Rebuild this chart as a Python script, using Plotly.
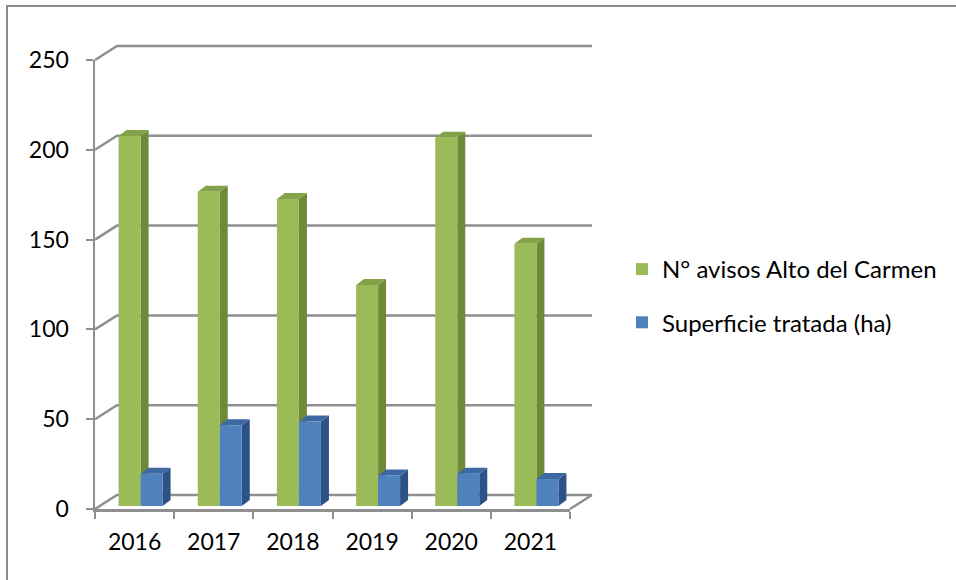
import plotly.graph_objects as go

# ---- data ----
years = ["2016", "2017", "2018", "2019", "2020", "2021"]
avisos = [206, 175, 171, 123, 205, 146]
superficie = [18, 45, 47, 17, 18, 15]
y_ticks = [0, 50, 100, 150, 200, 250]
name_avisos = "N° avisos Alto del Carmen"
name_sup = "Superficie tratada (ha)"

# ---- geometry / style ----
W, H = 956, 580
L, R, T, B = 95, 570, 60, 509          # front plane of the 3D box (px)
YMAX = 250
ncat = len(years)
cat_px = (R - L) / ncat
upx = (B - T) / YMAX                   # px per value unit
SX, SY = 6, 3                          # bar plane shift (px) relative to front plane
BX, BY = 22, 14                        # back wall shift (px)
DX, DY = 8, 6                          # bar depth (px)
BARGAP = 0.444
FONT = "Lato"
GRID = "#8f8f8f"

green = dict(front="#9BBB59", side="#6E8A38", top="#84A24A")
blue = dict(front="#4F81BD", side="#2D5287", top="#3D69A3")

fig = go.Figure()

# invisible trace carrying the front-plane category axis
fig.add_trace(go.Scatter(x=years, y=avisos, mode="markers", marker=dict(opacity=0),
                         showlegend=False, hoverinfo="skip", xaxis="x", yaxis="y"))

fig.add_trace(go.Bar(x=years, y=avisos, name=name_avisos, marker_color=green["front"],
                     marker_line_width=0, legendgroup="a", xaxis="x2", yaxis="y2"))
fig.add_trace(go.Bar(x=years, y=superficie, name=name_sup, marker_color=blue["front"],
                     marker_line_width=0, legendgroup="b", xaxis="x2", yaxis="y2"))

shapes = []
# back wall gridlines with perspective connectors (paper coords = front plane)
pbx = BX / (R - L)
pby = BY / (B - T)
for t in y_ticks:
    fy = t / YMAX
    shapes.append(dict(type="path", xref="paper", yref="paper", layer="below",
                       path=f"M0,{fy} L{pbx},{fy + pby} L{1 + pbx},{fy + pby}",
                       line=dict(color=GRID, width=2.5)))
# floor right edge
shapes.append(dict(type="line", xref="paper", yref="paper", layer="below",
                   x0=1, y0=0, x1=1 + pbx, y1=pby, line=dict(color=GRID, width=2.5)))

# 3D side and top faces of bars (bar-plane axes)
w = (1 - BARGAP) / 2
dxu = DX / cat_px
dyu = DY / upx
for k, (vals, col) in enumerate([(avisos, green), (superficie, blue)]):
    for i, v in enumerate(vals):
        x0 = i - w + k * w
        x1 = x0 + w
        side = (f"M{x1},0 L{x1 + dxu},{dyu} L{x1 + dxu},{v + dyu} L{x1},{v} Z")
        top = (f"M{x0},{v} L{x0 + dxu},{v + dyu} L{x1 + dxu},{v + dyu} L{x1},{v} Z")
        shapes.append(dict(type="path", xref="x2", yref="y2", layer="below", path=side,
                           fillcolor=col["side"], line=dict(width=0)))
        shapes.append(dict(type="path", xref="x2", yref="y2", layer="below", path=top,
                           fillcolor=col["top"], line=dict(width=0)))

# outer chart border
shapes.append(dict(type="rect", xref="paper", yref="paper", layer="below",
                   x0=(7 - L) / (R - L), x1=(W + 10 - L) / (R - L),
                   y0=(B - (H + 10)) / (B - T), y1=(B - 6) / (B - T),
                   line=dict(color="#8a8a8a", width=2), fillcolor="rgba(0,0,0,0)"))

tickfont = dict(family=FONT, size=23, color="#000000")
fig.update_layout(
    width=W, height=H,
    margin=dict(l=L, r=W - R, t=T, b=H - B, pad=0),
    paper_bgcolor="white", plot_bgcolor="rgba(0,0,0,0)",
    barmode="group", bargap=BARGAP, bargroupgap=0,
    font=dict(family=FONT, size=23, color="#000000"),
    xaxis=dict(type="category", range=[-0.5, ncat - 0.5], showgrid=False, zeroline=False,
               showline=True, linecolor=GRID, linewidth=2.5,
               ticks="outside", tickson="boundaries", ticklen=7, tickwidth=2, tickcolor=GRID,
               tickfont=tickfont, ticklabelstandoff=11, fixedrange=True),
    yaxis=dict(range=[0, YMAX], tickvals=y_ticks, showgrid=False, zeroline=False,
               showline=True, linecolor=GRID, linewidth=2.5,
               ticks="outside", ticklen=7, tickwidth=2, tickcolor=GRID,
               tickfont=tickfont, ticklabelstandoff=12, fixedrange=True),
    xaxis2=dict(type="category", overlaying="x", anchor="y2", visible=False,
                range=[-0.5 - SX / cat_px, ncat - 0.5 - SX / cat_px]),
    yaxis2=dict(overlaying="y", anchor="x2", visible=False,
                range=[-SY / upx, YMAX - SY / upx]),
    showlegend=True,
    legend=dict(x=(622 - L) / (R - L), xanchor="left", y=(B - 296) / (B - T), yanchor="middle",
                bgcolor="rgba(0,0,0,0)", tracegroupgap=19, traceorder="grouped",
                font=dict(family=FONT, size=24, color="#000000")),
    shapes=shapes,
)

fig.write_html("out.html", config={"displayModeBar": False, "staticPlot": True},
               post_script="document.body.style.margin='0px';")
